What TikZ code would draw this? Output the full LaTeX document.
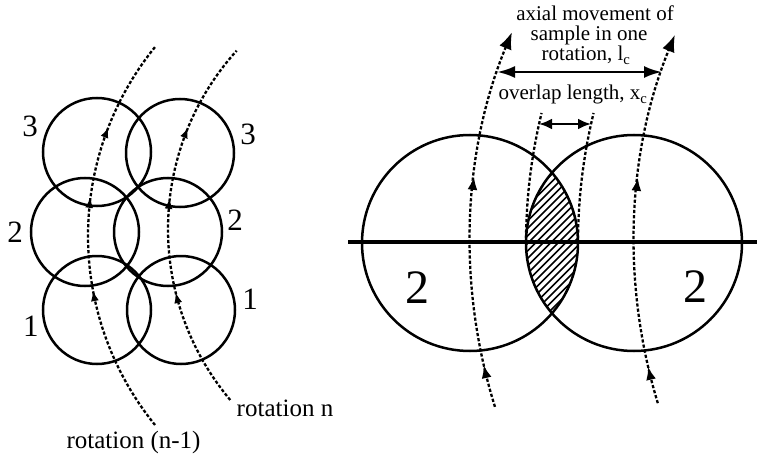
\documentclass[tikz,border=0pt]{standalone}
\usepackage{fontspec}
\setmainfont{Liberation Serif}
\usetikzlibrary{arrows.meta,decorations.markings}
\tikzset{
  ring/.style={circle, draw, line width=2.5pt, minimum size=#1, inner sep=0pt},
  dotline/.style={line width=2.3pt, dash pattern=on 3.2pt off 2pt},
  smalltip/.tip={Latex[length=11pt,width=8pt]},
  midtip/.tip={Latex[length=13pt,width=10pt]},
  bigtip/.tip={Latex[length=17pt,width=13pt]},
  dimtip/.tip={Latex[length=18pt,width=12pt]},
  ovtip/.tip={Latex[length=13pt,width=11pt]},
  lbl/.style={inner sep=0pt, font=\fontsize{25}{27}\selectfont},
  rlbl/.style={inner sep=0pt, font=\fontsize{21}{22}\selectfont, anchor=base},
  dig/.style={inner sep=0pt, font=\fontsize{31}{33}\selectfont},
  bigdig/.style={inner sep=0pt, font=\fontsize{48}{50}\selectfont},
}
\begin{document}
\begin{tikzpicture}[x=1pt,y=1pt]
\useasboundingbox (0,0) rectangle (757,456);

% ---------- left part ----------
\node[ring=108] (c3L) at (97,304) {};
\node[ring=108] (c3R) at (180,303) {};
\node[ring=108] (c2L) at (85,224) {};
\node[ring=108] (c2R) at (168,224) {};
\node[ring=108] (c1L) at (97,146) {};
\node[ring=108] (c1R) at (181,146) {};

\node[dig] (n3L) at (30,330) {3};
\node[dig] (n3R) at (248,322) {3};
\node[dig] (n2L) at (15,224) {2};
\node[dig] (n2R) at (235,236) {2};
\node[dig] (n1L) at (31,130) {1};
\node[dig] (n1R) at (250,157) {1};

\coordinate (k1) at (388,220);
\coordinate (k2) at (434,227);
\draw[dotline, postaction={decorate}, decoration={markings,
   mark=at position 0.367 with {\arrow{smalltip}},
   mark=at position 0.596 with {\arrow{smalltip}},
   mark=at position 0.773 with {\arrow{smalltip}}}]
  (k1) ++(219.05:300) arc[start angle=219.05, end angle=140.95, radius=300];
\draw[dotline, postaction={decorate}, decoration={markings,
   mark=at position 0.32 with {\arrow{smalltip}},
   mark=at position 0.569 with {\arrow{smalltip}},
   mark=at position 0.761 with {\arrow{smalltip}}}]
  (k2) ++(220:266) arc[start angle=220, end angle=137.9, radius=266];

\node[lbl, anchor=base] (rn1) at (133.5,8) {rotation (n-1)};
\node[lbl, anchor=base] (rn) at (285,40) {rotation n};

% ---------- right part ----------
\begin{scope}
  \clip (470,213) circle[radius=108];
  \clip (634,213) circle[radius=108];
  \foreach \k in {340,347.5,...,590} \draw[line width=1.7pt] (\k,100) -- ++(250,250);
\end{scope}
\node[ring=216] (bL) at (470,213) {};
\node[ring=216] (bR) at (634,213) {};
\coordinate (hl) at (348,214);
\coordinate (hr) at (757,214);
\draw[line width=3.2pt] (hl) -- (hr);

\node[bigdig] (b2L) at (417,168) {2};
\node[bigdig] (b2R) at (695,169) {2};

\coordinate (kA) at (1021,213);
\coordinate (kB) at (1185,213);
\draw[dotline, -{bigtip}, postaction={decorate}, decoration={markings,
   mark=at position 0.113 with {\arrow{midtip}},
   mark=at position 0.608 with {\arrow{midtip}}}]
  (kA) ++(197.3:551) arc[start angle=197.3, end angle=157.5, radius=551];
\draw[dotline, -{bigtip}, postaction={decorate}, decoration={markings,
   mark=at position 0.10 with {\arrow{midtip}},
   mark=at position 0.606 with {\arrow{midtip}}}]
  (kB) ++(196.9:551) arc[start angle=196.9, end angle=157.8, radius=551];

% lens guide lines
\coordinate (gL) at (1077,213);
\coordinate (gR) at (1129,213);
\draw[dotline] (gL) ++(180:551) arc[start angle=180, end angle=166.35, radius=551];
\draw[dotline] (gR) ++(180:551) arc[start angle=180, end angle=166.35, radius=551];

% dimension arrows
\coordinate (lcA) at (497,384);
\coordinate (lcB) at (662,384);
\draw[line width=2.8pt, {dimtip}-{dimtip}] (lcA) -- (lcB);
\coordinate (xcA) at (539,332);
\coordinate (xcB) at (591,332);
\draw[line width=2.8pt, {ovtip}-{ovtip}] (xcA) -- (xcB);

\node[rlbl] (t1) at (595,435) {axial movement of};
\node[rlbl] (t2) at (589,415) {sample in one};
\node[rlbl] (t3) at (586,395) {rotation, l\textsubscript{c}};
\node[rlbl] (t4) at (573,356) {overlap length, x\textsubscript{c}};
\end{tikzpicture}
\end{document}
